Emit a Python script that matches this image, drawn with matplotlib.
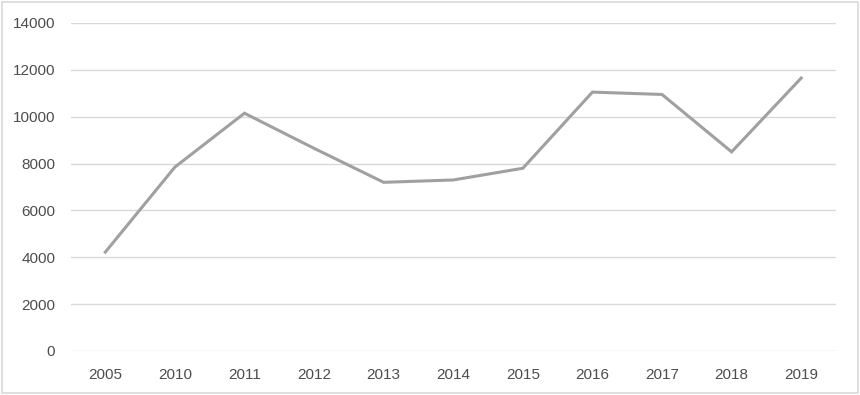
import matplotlib
matplotlib.use("Agg")
import matplotlib.pyplot as plt
from matplotlib.patches import Rectangle

years = ["2005", "2010", "2011", "2012", "2013", "2014", "2015", "2016", "2017", "2018", "2019"]
values = [4220, 7850, 10150, 8650, 7200, 7300, 7800, 11050, 10950, 8500, 11650]
yticks = [0, 2000, 4000, 6000, 8000, 10000, 12000, 14000]

fig = plt.figure(figsize=(8.6, 3.95), dpi=100)
fig.patches.append(Rectangle((0.002, 0.006), 0.996, 0.99, transform=fig.transFigure,
                             fill=False, edgecolor="#d9d9d9", linewidth=1.2))
ax = fig.add_axes([70.5/860, 1-351/395, (836-70.5)/860, (351-23)/395])

x = list(range(len(years)))
ax.plot(x, values, color="#a0a0a0", linewidth=2.2, solid_joinstyle="miter")

ax.set_xlim(-0.5, len(years)-0.5)
ax.set_ylim(0, 14000)
ax.set_yticks(yticks)
ax.set_yticklabels([str(v) for v in yticks])
ax.set_xticks(x)
ax.set_xticklabels(years)
ax.grid(axis="y", color="#d9d9d9", linewidth=1.0)
ax.set_axisbelow(True)
for s in ax.spines.values():
    s.set_visible(False)
ax.tick_params(axis="both", length=0, colors="#4d4d4d", labelsize=11)
ax.tick_params(axis="y", pad=11)
ax.tick_params(axis="x", pad=12)
for lab in ax.get_xticklabels() + ax.get_yticklabels():
    lab.set_family("Liberation Sans")

fig.savefig("out.png", dpi=100)
